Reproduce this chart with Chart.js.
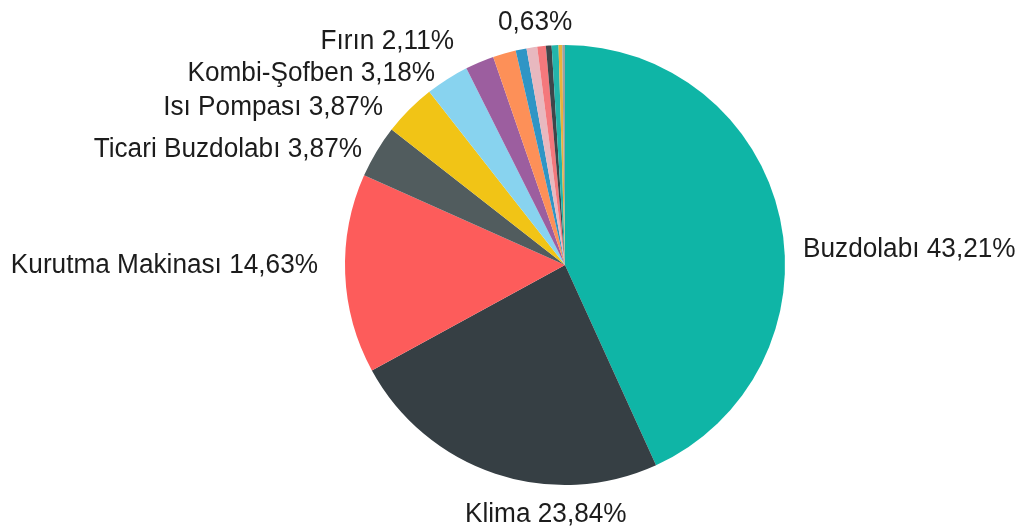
<!DOCTYPE html>
<html>
<head>
<meta charset="utf-8">
<script src="https://cdn.jsdelivr.net/npm/chart.js@4"></script>
<style>
html,body{margin:0;padding:0;background:#fff;}
#wrap{width:1020px;height:528px;position:relative;}
</style>
</head>
<body>
<div id="wrap"><canvas id="c" width="1020" height="528"></canvas></div>
<script>
const categories = ["Buzdolabı","Klima","Kurutma Makinası","Ticari Buzdolabı","Isı Pompası","Kombi-Şofben","Fırın","Diğer 1","Diğer 2","Diğer 3","Diğer 4","Diğer 5","Diğer 6","Diğer 7","Diğer 8"];
const values = [43.21, 23.84, 14.63, 3.87, 3.87, 3.18, 2.11, 1.69, 0.80, 0.78, 0.63, 0.42, 0.50, 0.27, 0.20];
const labelTexts = ["Buzdolabı 43,21%","Klima 23,84%","Kurutma Makinası 14,63%","Ticari Buzdolabı 3,87%","Isı Pompası 3,87%","Kombi-Şofben 3,18%","Fırın 2,11%","","","","0,63%","","","",""];
const colors = ["#0fb5a6","#363f44","#fd5c5b","#515c5e","#f1c416","#88d3ef","#9c5e9f","#fd9058","#2f95c5","#e8b8bf","#f4787c","#3e464a","#23b5ab","#e9b23b","#9aa0a2"];

// label anchor positions relative to pie center (text placement, not marks)
const labelPlace = {
  0: {dx: 238, dy: -8, align: "left"},
  1: {dx: -100, dy: 256.5, align: "left"},
  2: {dx: -247, dy: 8, align: "right"},
  3: {dx: -203, dy: -108, align: "right"},
  4: {dx: -182, dy: -150, align: "right"},
  5: {dx: -130, dy: -184, align: "right"},
  6: {dx: -111, dy: -216, align: "right"},
  10:{dx: -67, dy: -235, align: "left"}
};

const labelPlugin = {
  id: "sliceLabels",
  afterDraw(chart) {
    const ctx = chart.ctx;
    const meta = chart.getDatasetMeta(0);
    const arc = meta.data[0];
    const cx = arc.x, cy = arc.y;
    ctx.font = "27px 'Liberation Sans', Arial, sans-serif";
    ctx.fillStyle = "#1c1c1c";
    ctx.textBaseline = "alphabetic";
    labelTexts.forEach((t, i) => {
      if (!t || !labelPlace[i]) return;
      const p = labelPlace[i];
      ctx.save();
      ctx.translate(cx + p.dx, cy + p.dy);
      ctx.scale(0.97, 1);
      ctx.textAlign = p.align;
      ctx.fillText(t, 0, 0);
      ctx.restore();
    });
  }
};

new Chart(document.getElementById("c"), {
  type: "pie",
  data: {
    labels: categories,
    datasets: [{
      data: values,
      backgroundColor: colors,
      borderWidth: 0
    }]
  },
  options: {
    responsive: false,
    animation: false,
    layout: {padding: {top: 45, bottom: 43, left: 345, right: 235}},
    plugins: {legend: {display: false}, tooltip: {enabled: false}}
  },
  plugins: [labelPlugin]
});
</script>
</body>
</html>
